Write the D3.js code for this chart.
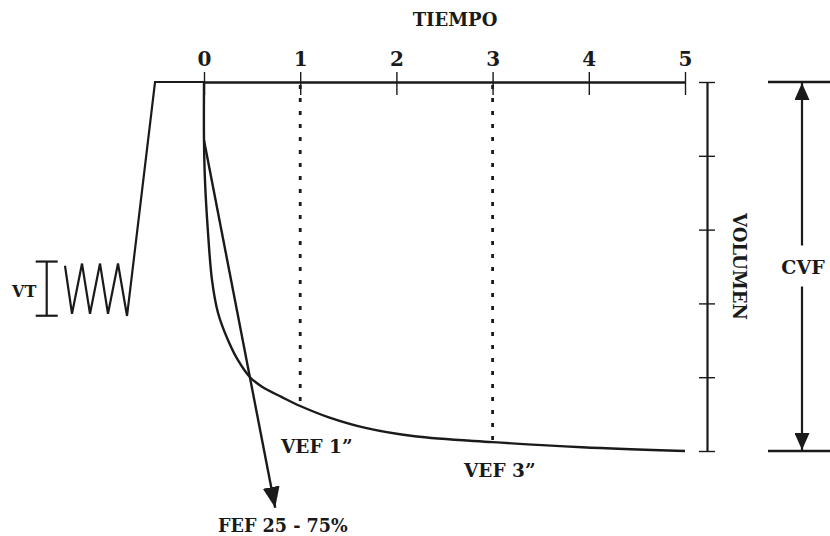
<!DOCTYPE html>
<html><head><meta charset="utf-8">
<script src="https://cdn.jsdelivr.net/npm/d3@7"></script>
<style>body{margin:0;background:#fff}svg{display:block}</style>
</head><body>
<svg id="c" width="830" height="536"></svg>
<script>
// ---- data (time in s, volume in relative units; CVF = 5) ----
const timeTicks = [0, 1, 2, 3, 4, 5];
const volumeTicks = [0, 1, 2, 3, 4, 5];
// forced expiration curve
const curveTimes   = [0, 0, 0.01, 0.04, 0.083, 0.146, 0.25, 0.353, 0.478, 0.603, 0.81, 1.0, 1.29, 1.69, 2.19, 3.0, 3.93, 5.0];
const curveVolumes = [5, 4.21, 3.67, 2.99, 2.32, 1.87, 1.50, 1.23, 1.00, 0.87, 0.73, 0.61, 0.46, 0.31, 0.20, 0.12, 0.05, 0.0];
// tidal breathing + maximal inspiration before t = 0
const breathTimes   = [-1.445, -1.372, -1.268, -1.185, -1.081, -0.998, -0.894, -0.80, -0.509, 0];
const breathVolumes = [2.51, 1.86, 2.54, 1.86, 2.54, 1.86, 2.54, 1.83, 5, 5];
// FEF 25-75% tangent line
const fefTimes = [0, 0.74];
const fefVolumes = [4.21, -0.77];
// VEF markers
const vefTimes = [1, 3];
const vtRange = [1.86, 2.54];
const labels = {
  time: "TIEMPO", volume: "VOLUMEN", cvf: "CVF", vt: "VT",
  vef1: "VEF 1\u201D", vef3: "VEF 3\u201D", fef: "FEF 25 - 75%"
};

const ink = "#1a1a1a";
const FONT = "DejaVu Serif";
const svg = d3.select("#c");
const x = d3.scaleLinear().domain([0, 5]).range([204, 685]);
const y = d3.scaleLinear().domain([0, 5]).range([451, 82]);

const defs = svg.append("defs");
function marker(id, len, w) {
  defs.append("marker").attr("id", id).attr("markerUnits", "userSpaceOnUse")
    .attr("viewBox", `0 ${-w/2} ${len} ${w}`).attr("refX", len).attr("refY", 0)
    .attr("markerWidth", len).attr("markerHeight", w).attr("orient", "auto")
    .append("path").attr("d", `M0,${-w/2}L${len},0L0,${w/2}Z`).attr("fill", ink);
}
marker("arrFef", 21, 17);
marker("arrCvf", 17, 15);

// time axis (top)
const gx = svg.append("g").attr("transform", `translate(0,${y(5)})`)
  .call(d3.axisTop(x).tickValues(timeTicks).tickSizeInner(10).tickSizeOuter(0).tickPadding(6).tickFormat(d3.format("d")));
gx.select(".domain").attr("stroke", ink).attr("stroke-width", 2.4);
gx.selectAll(".tick line").attr("y1", 13).attr("stroke", ink).attr("stroke-width", 1.4);
gx.selectAll(".tick text").attr("font-family", FONT).attr("font-weight", "bold")
  .attr("font-size", 20).attr("fill", ink);

svg.append("text").attr("x", 455).attr("y", 26).attr("text-anchor", "middle")
  .attr("font-family", FONT).attr("font-weight", "bold").attr("font-size", 18)
  .attr("fill", ink).text(labels.time);

// volume axis (right)
const gy = svg.append("g").attr("transform", `translate(707,0)`)
  .call(d3.axisRight(y).tickValues(volumeTicks).tickSizeInner(8).tickSizeOuter(0).tickFormat(""));
gy.select(".domain").attr("stroke", ink).attr("stroke-width", 2.2);
gy.selectAll(".tick line").attr("x1", -8).attr("stroke", ink).attr("stroke-width", 1.4);
svg.append("text").attr("transform", `translate(733,${y(2.5)}) rotate(90)`)
  .attr("text-anchor", "middle").attr("font-family", FONT).attr("font-weight", "bold")
  .attr("font-size", 18).attr("fill", ink).text(labels.volume);

// CVF bracket
const cvfX = 802;
[5, 0].forEach(v => svg.append("line").attr("x1", 768).attr("x2", 830)
  .attr("y1", y(v)).attr("y2", y(v)).attr("stroke", ink).attr("stroke-width", 2.4));
svg.append("line").attr("x1", cvfX).attr("x2", cvfX).attr("y1", y(2.5) - 21).attr("y2", y(5) + 1)
  .attr("stroke", ink).attr("stroke-width", 2.2).attr("marker-end", "url(#arrCvf)");
svg.append("line").attr("x1", cvfX).attr("x2", cvfX).attr("y1", y(2.5) + 20).attr("y2", y(0) - 1)
  .attr("stroke", ink).attr("stroke-width", 2.2).attr("marker-end", "url(#arrCvf)");
svg.append("text").attr("x", cvfX + 1).attr("y", y(2.5) + 7).attr("text-anchor", "middle")
  .attr("font-family", FONT).attr("font-weight", "bold").attr("font-size", 19)
  .attr("fill", ink).text(labels.cvf);

// breathing trace
svg.append("path").datum(breathTimes.map((t, i) => [t, breathVolumes[i]]))
  .attr("d", d3.line().x(d => x(d[0])).y(d => y(d[1])))
  .attr("fill", "none").attr("stroke", ink).attr("stroke-width", 2.2).attr("stroke-linejoin", "miter");

// VT bracket
const vtX = x(-1.635);
svg.append("line").attr("x1", vtX).attr("x2", vtX).attr("y1", y(vtRange[1]) - 2).attr("y2", y(vtRange[0]) + 2)
  .attr("stroke", ink).attr("stroke-width", 2.2);
[vtRange[1], vtRange[0]].forEach((v, i) => svg.append("line")
  .attr("x1", vtX - 11).attr("x2", vtX + 11)
  .attr("y1", y(v) + (i ? 2 : -2)).attr("y2", y(v) + (i ? 2 : -2)).attr("stroke", ink).attr("stroke-width", 2.2));
svg.append("text").attr("x", 12).attr("y", 297).attr("font-family", FONT).attr("font-weight", "bold")
  .attr("font-size", 16).attr("fill", ink).text(labels.vt);

// VEF dotted lines
vefTimes.forEach(t => {
  const v = curveVolumes[curveTimes.indexOf(t)];
  svg.append("line").attr("x1", x(t)).attr("x2", x(t)).attr("y1", y(5) + 3).attr("y2", y(v))
    .attr("stroke", ink).attr("stroke-width", 2.8).attr("stroke-dasharray", "4,9");
});

// expiration curve
svg.append("path").datum(curveTimes.map((t, i) => [t, curveVolumes[i]]))
  .attr("d", d3.line().x(d => x(d[0])).y(d => y(d[1])).curve(d3.curveCatmullRom.alpha(0.5)))
  .attr("fill", "none").attr("stroke", ink).attr("stroke-width", 2.4);

// FEF 25-75 line
svg.append("line").attr("x1", x(fefTimes[0])).attr("y1", y(fefVolumes[0]))
  .attr("x2", x(fefTimes[1])).attr("y2", y(fefVolumes[1]))
  .attr("stroke", ink).attr("stroke-width", 2.4).attr("marker-end", "url(#arrFef)");

// annotation labels
const txt = (s, xx, yy, fs) => svg.append("text").attr("x", xx).attr("y", yy)
  .attr("font-family", FONT).attr("font-weight", "bold").attr("font-size", fs).attr("fill", ink).text(s);
txt(labels.vef1, 281, 453, 18.5);
txt(labels.vef3, 464, 477, 18.5);
txt(labels.fef, 218, 532, 17.6);
</script>
</body></html>
